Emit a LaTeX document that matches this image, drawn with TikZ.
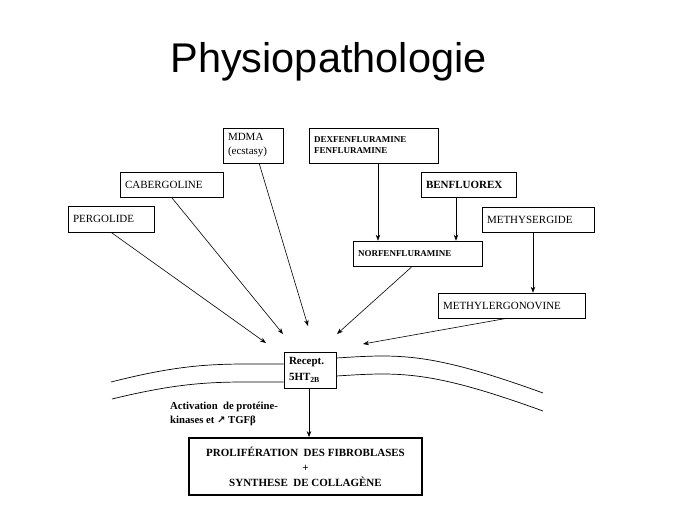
\documentclass[tikz,border=0pt]{standalone}
\usepackage{fontspec}
\setmainfont{Liberation Serif}
\newfontfamily\titlefont{Liberation Sans}
\newfontfamily\symfont{DejaVu Sans}
\usetikzlibrary{arrows.meta}

\tikzstyle{drug}=[draw,line width=0.6pt,rectangle,inner xsep=5pt,inner ysep=2pt,align=left]
\tikzstyle{arrowline}=[draw,line width=0.6pt,-{Stealth[length=6pt,width=4.5pt]}]
\tikzstyle{membrane}=[draw,line width=0.7pt]
\newcommand{\drugfont}{\fontsize{11}{14}\selectfont}
\newcommand{\smallbold}{\fontsize{9}{11}\selectfont\bfseries}
\newcommand{\bigbold}{\fontsize{11}{16}\selectfont\bfseries}

\begin{document}
\begin{tikzpicture}[x=1pt,y=-1pt]
    \useasboundingbox (0,0) rectangle (689,517);
    % Title
    \node[anchor=base,font=\titlefont\fontsize{41.5}{48}\selectfont] (title) at (328.5,72) {Physiopathologie};
    % First we draw the drug boxes
    \foreach \pos/\name/\boxw/\boxh/\fnt/\txt in {
        {(111,219)/pergolide/76pt/26pt/\drugfont/PERGOLIDE},
        {(171.5,184.5)/cabergoline/93pt/25pt/\drugfont/CABERGOLINE},
        {(253,145.5)/mdma/50pt/35pt/\drugfont/{MDMA\\(ecstasy)}},
        {(373.5,145.5)/dexfen/119pt/35pt/\smallbold/{DEXFENFLURAMINE\\FENFLURAMINE}},
        {(468.5,184.5)/benfluorex/85pt/25pt/\bigbold/BENFLUOREX},
        {(538,219.5)/methysergide/102pt/25pt/\drugfont/METHYSERGIDE},
        {(417.5,253.5)/norfen/119pt/25pt/\smallbold/NORFENFLURAMINE},
        {(511.5,305.5)/methylergo/137pt/25pt/\drugfont/METHYLERGONOVINE},
        {(310,370)/recept/42pt/36pt/\bigbold/{Recept.\\5HT\textsubscript{2B}}}}
        \node[drug,text width=\boxw,minimum height=\boxh,font=\fnt] (\name) at \pos {\txt};
    % Effect box
    \node[draw,line width=1.8pt,minimum width=233pt,minimum height=57pt,align=center,
          font=\fontsize{11}{15}\selectfont\bfseries] (prolif) at (305.5,466.5)
        {PROLIFÉRATION\ \ DES FIBROBLASES\\+\\SYNTHESE\ \ DE COLLAGÈNE};
    \node[anchor=north west,inner sep=0pt,align=left,font=\fontsize{10.7}{14}\selectfont\bfseries] (activation) at (170,402)
        {Activation\ \ de protéine-\\kinases et {\symfont\fontsize{10}{10}\selectfont ↗} TGFβ};
    % Membrane
    \path[membrane] (recept.west |- 0,364) .. controls (220,364) and (190,362) .. (111,382);
    \path[membrane] (recept.west |- 0,382) .. controls (220,382) and (190,380) .. (112,399);
    \path[membrane] (recept.east |- 0,358) .. controls (400,354) and (430,352) .. (543,393);
    \path[membrane] (recept.east |- 0,376) .. controls (400,372) and (430,370) .. (543,411);
    % Arrow ends near the receptor
    \coordinate (pergoend) at (266,343);
    \coordinate (caberend) at (283,334);
    \coordinate (mdmaend) at (308,326);
    \coordinate (norfenend) at (337,334);
    \coordinate (methylend) at (363,344);
    % Connect drugs with receptor
    \foreach \drug/\ang/\tip in {pergolide/-90/pergoend, cabergoline/-90/caberend, mdma/-71/mdmaend,
                                 norfen/-112/norfenend, methylergo/-110/methylend}
        \path[arrowline] (\drug.\ang) -- (\tip);
    % Vertical arrows
    \foreach \drug/\tip/\dx in {dexfen/norfen/4.5pt, benfluorex/norfen/-12.5pt,
                                methysergide/methylergo/-5pt, recept/prolif/-1pt}
        \path[arrowline] ([xshift=\dx]\drug.south) -- ([xshift=\dx]\drug.south |- \tip.north);
\end{tikzpicture}
\end{document}
